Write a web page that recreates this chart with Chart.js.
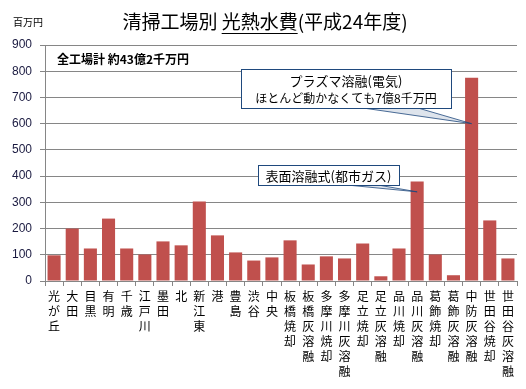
<!DOCTYPE html>
<html>
<head>
<meta charset="utf-8">
<script src="https://cdn.jsdelivr.net/npm/chart.js@4/dist/chart.umd.min.js"></script>
<style>
  body { margin: 0; background: #fff; }
  #wrap { width: 526px; height: 389px; position: relative; }
</style>
</head>
<body>
<div id="wrap"><canvas id="chart"></canvas></div>
<script>
const plants = ['光が丘', '大田', '目黒', '有明', '千歳', '江戸川', '墨田', '北', '新江東', '港', '豊島', '渋谷', '中央',
  '板橋焼却', '板橋灰溶融', '多摩川焼却', '多摩川灰溶融', '足立焼却', '足立灰溶融', '品川焼却', '品川灰溶融',
  '葛飾焼却', '葛飾灰溶融', '中防灰溶融', '世田谷焼却', '世田谷灰溶融'];
const costs = [98, 200, 124, 238, 124, 101, 151, 136, 303, 174, 109, 78, 90,
  155, 63, 94, 86, 143, 18, 124, 379, 101, 22, 775, 231, 86];
const yTicks = [0, 100, 200, 300, 400, 500, 600, 700, 800, 900];

const jp = '"Noto Sans CJK JP", "Noto Sans", sans-serif';

// 縦書きラベル
const labels = plants.map(p => p.split(''));

const overlay = {
  id: 'overlay',
  afterDraw(chart) {
    const ctx = chart.ctx;
    const x = chart.scales.x, y = chart.scales.y;
    ctx.save();
    ctx.fillStyle = '#000';
    ctx.textBaseline = 'middle';

    // 単位
    ctx.font = '10px ' + jp;
    ctx.textAlign = 'left';
    ctx.fillText('百万円', 13, 22);

    // タイトル（一部下線）
    ctx.font = '19px ' + jp;
    const t1 = '清掃工場別 ', t2 = '光熱水費', t3 = '(平成24年度)';
    const w1 = ctx.measureText(t1).width, w2 = ctx.measureText(t2).width, w3 = ctx.measureText(t3).width;
    let tx = 265 - (w1 + w2 + w3) / 2;
    ctx.fillText(t1, tx, 22);
    ctx.fillText(t2, tx + w1, 22);
    ctx.fillText(t3, tx + w1 + w2, 22);
    ctx.fillRect(tx + w1, 33, w2, 1);

    // 合計
    ctx.font = 'bold 12px ' + jp;
    ctx.fillText('全工場計 約43億2千万円', 57, 59);

    // 吹き出し
    function callout(bx, by, bw, bh, lines, b1, b2, idx, val) {
      const px = x.getPixelForValue(idx), py = y.getPixelForValue(val);
      ctx.beginPath();
      ctx.moveTo(b1, by + bh);
      ctx.lineTo(px, py);
      ctx.lineTo(b2, by + bh);
      ctx.closePath();
      ctx.fillStyle = 'rgba(31,73,125,0.15)';
      ctx.fill();
      ctx.strokeStyle = 'rgba(31,73,125,0.8)';
      ctx.lineWidth = 1;
      ctx.stroke();
      ctx.fillStyle = '#fff';
      ctx.fillRect(bx, by, bw, bh);
      ctx.strokeStyle = '#1f497d';
      ctx.strokeRect(bx + 0.5, by + 0.5, bw, bh);
      ctx.fillStyle = '#000';
      ctx.textAlign = 'center';
      lines.forEach((s, i) => {
        ctx.font = s[1] + 'px ' + jp;
        ctx.fillText(s[0], bx + bw / 2, by + bh / 2 + 1 + (i - (lines.length - 1) / 2) * 17);
      });
    }
    callout(241, 69, 210, 39, [['プラズマ溶融(電気)', 13], ['ほとんど動かなくても7億8千万円', 12]], 363, 418, 23, 600);
    callout(258, 165, 141, 20, [['表面溶融式(都市ガス)', 13]], 347, 378, 20, 340);
    ctx.restore();
  }
};

new Chart(document.getElementById('chart'), {
  type: 'bar',
  data: {
    labels: labels,
    datasets: [{
      data: costs,
      backgroundColor: '#c0504d',
      categoryPercentage: 1,
      barPercentage: 0.72
    }]
  },
  options: {
    responsive: true,
    maintainAspectRatio: false,
    animation: false,
    layout: { padding: { top: 45, right: 9, left: 0, bottom: 0 } },
    plugins: {
      legend: { display: false },
      title: { display: false },
      tooltip: { enabled: false }
    },
    scales: {
      x: {
        afterFit(scale) { scale.height = 108; },
        grid: { drawOnChartArea: false, drawTicks: true, tickLength: 5, color: '#868686', offset: true },
        border: { color: '#868686' },
        ticks: {
          maxRotation: 0, minRotation: 0, autoSkip: false, padding: 3, color: '#000',
          font: { family: jp, size: 12, lineHeight: 1.25 }
        }
      },
      y: {
        min: 0, max: 900,
        afterFit(scale) { scale.width = 45; },
        afterBuildTicks(scale) { scale.ticks = yTicks.map(v => ({ value: v })); },
        grid: { color: '#868686', tickLength: 5 },
        border: { color: '#868686' },
        ticks: {
          padding: 8, color: '#1a1a40',
          font: { family: '"Liberation Sans", Arial, sans-serif', size: 12 }
        }
      }
    }
  },
  plugins: [overlay]
});
</script>
</body>
</html>
